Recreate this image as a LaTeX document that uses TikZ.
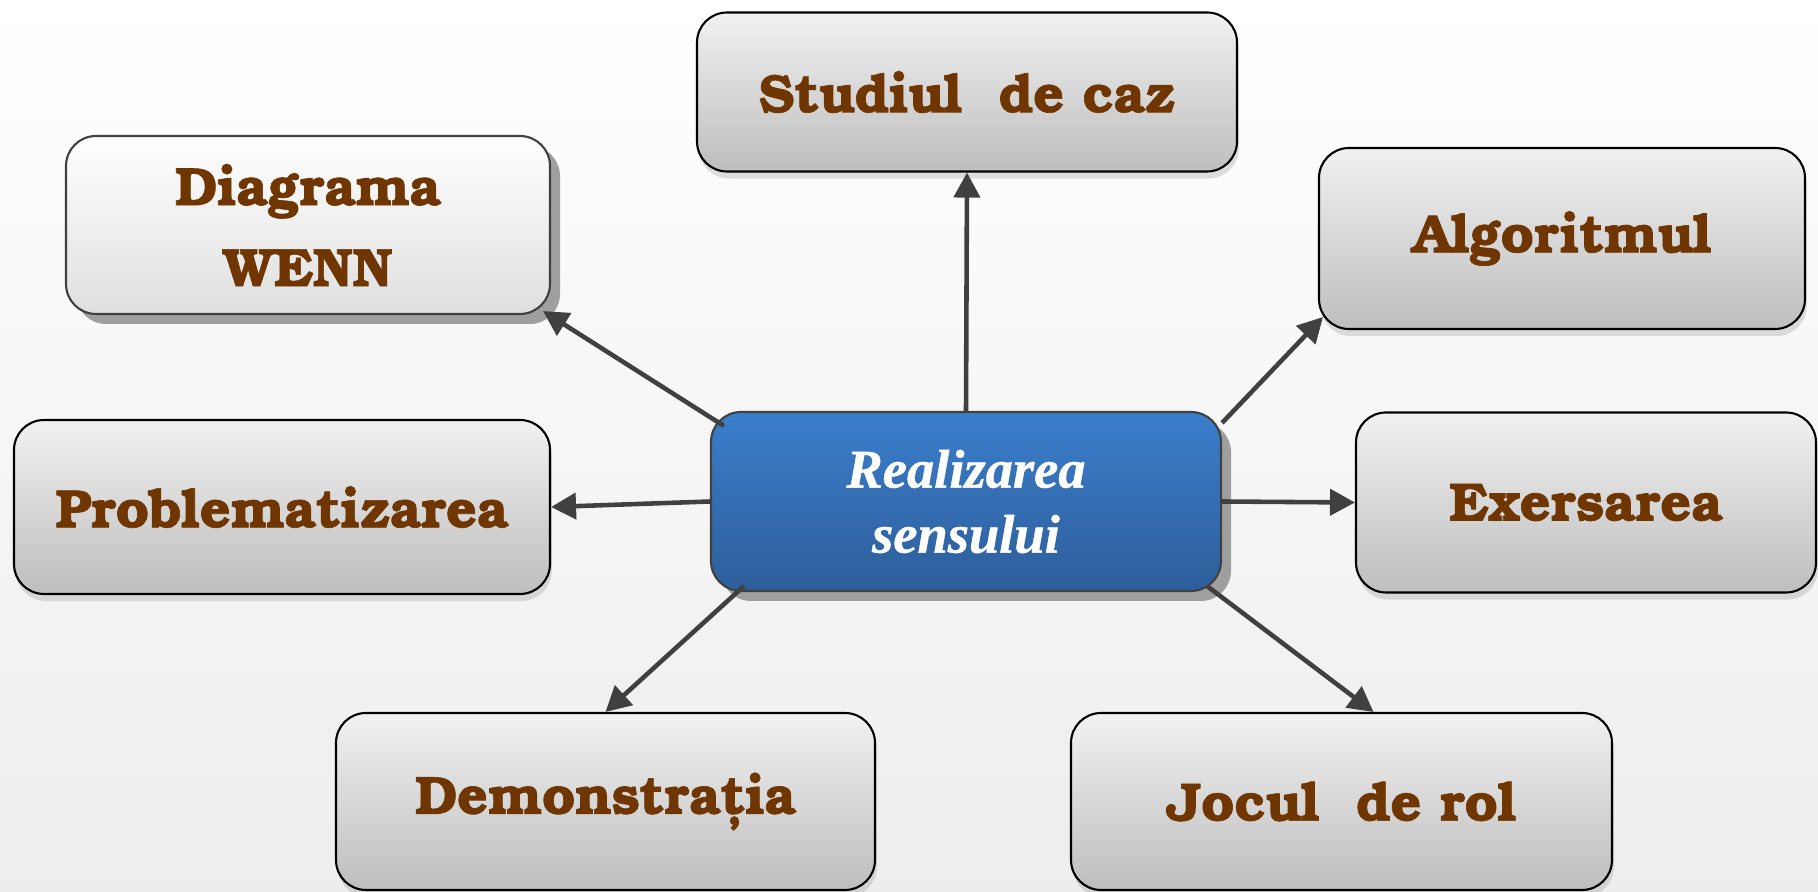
\documentclass[tikz,border=0pt]{standalone}
\usepackage{fontspec}
\setmainfont{TeX Gyre Bonum}[BoldFeatures={FakeBold=1.2}]
\newfontfamily\centrefont{Liberation Serif}[BoldItalicFont={Liberation Serif Bold Italic},
  BoldItalicFeatures={FakeBold=0.8}]
\usetikzlibrary{arrows.meta,shadows,calc}
\definecolor{boxtext}{RGB}{112,54,2}
\definecolor{boxtop}{RGB}{241,241,241}
\definecolor{boxbottom}{RGB}{190,190,190}
\definecolor{bluetop}{RGB}{58,126,204}
\definecolor{bluebottom}{RGB}{46,94,154}
\definecolor{linkgray}{RGB}{64,64,64}
\tikzset{
  method/.style={draw=black, line width=0.6pt, rounded corners=0.3cm,
    top color=boxtop, bottom color=boxbottom, text=boxtext, align=center,
    font=\fontsize{15.3}{23}\selectfont\bfseries, inner sep=0pt},
  softbox/.style={method, drop shadow={shadow xshift=0.5pt, shadow yshift=-2pt,
    opacity=0.25}},
  hardshadow/.style={drop shadow={shadow xshift=0.1cm, shadow yshift=-0.1cm,
    opacity=1, fill=gray!75}},
  link/.style={draw=linkgray, line width=1.3pt, -{Triangle[length=2.5mm,width=2.6mm]}}
}
\begin{document}
\begin{tikzpicture}
  \useasboundingbox (0,0) rectangle (18.18,8.92);
  \fill[top color=white, bottom color=gray!14] (0,0) rectangle (18.18,8.92);
  % centre
  \node[method, hardshadow, draw=linkgray, top color=bluetop, bottom color=bluebottom,
    text=white, font=\centrefont\fontsize{15.5}{18.5}\selectfont\bfseries\itshape,
    minimum width=5.10cm, minimum height=1.79cm] (ctr) at (9.66,3.905)
    {Realizarea\\sensului};
  % methods
  \node[method, hardshadow, draw=linkgray, top color=white, bottom color=gray!25,
    minimum width=4.84cm, minimum height=1.78cm] (diag) at (3.08,6.67) {Diagrama\\WENN};
  \node[softbox, minimum width=5.40cm, minimum height=1.59cm] (studiu) at (9.67,8.00)
    {Studiul\ \ de caz};
  \node[softbox, minimum width=4.86cm, minimum height=1.81cm] (algo) at (15.62,6.535)
    {Algoritmul};
  \node[softbox, minimum width=5.36cm, minimum height=1.74cm] (probl) at (2.82,3.85)
    {Problematizarea};
  \node[softbox, minimum width=4.60cm, minimum height=1.80cm] (exer) at (15.86,3.895)
    {Exersarea};
  \node[softbox, minimum width=5.39cm, minimum height=1.77cm] (demo) at (6.055,0.905)
    {Demonstrația};
  \node[softbox, minimum width=5.41cm, minimum height=1.77cm] (joc) at (13.415,0.905)
    {Jocul\ \ de rol};
  % links
  \draw[link] (ctr.north) -- (studiu.south);
  \draw[link] ($(ctr.north west)+(0.14,-0.15)$) -- ($(diag.south east)+(-0.08,0.04)$);
  \draw[link] ($(ctr.north east)+(0,-0.12)$) -- ($(algo.south west)+(0.05,0.13)$);
  \draw[link] (ctr.west) -- (probl.east);
  \draw[link] (ctr.east) -- (exer.west);
  \draw[link] ($(ctr.south west)+(0.34,0.06)$) -- (demo.north);
  \draw[link] ($(ctr.south east)+(-0.15,0.06)$) -- ($(joc.north)+(0.32,0)$);
\end{tikzpicture}
\end{document}
